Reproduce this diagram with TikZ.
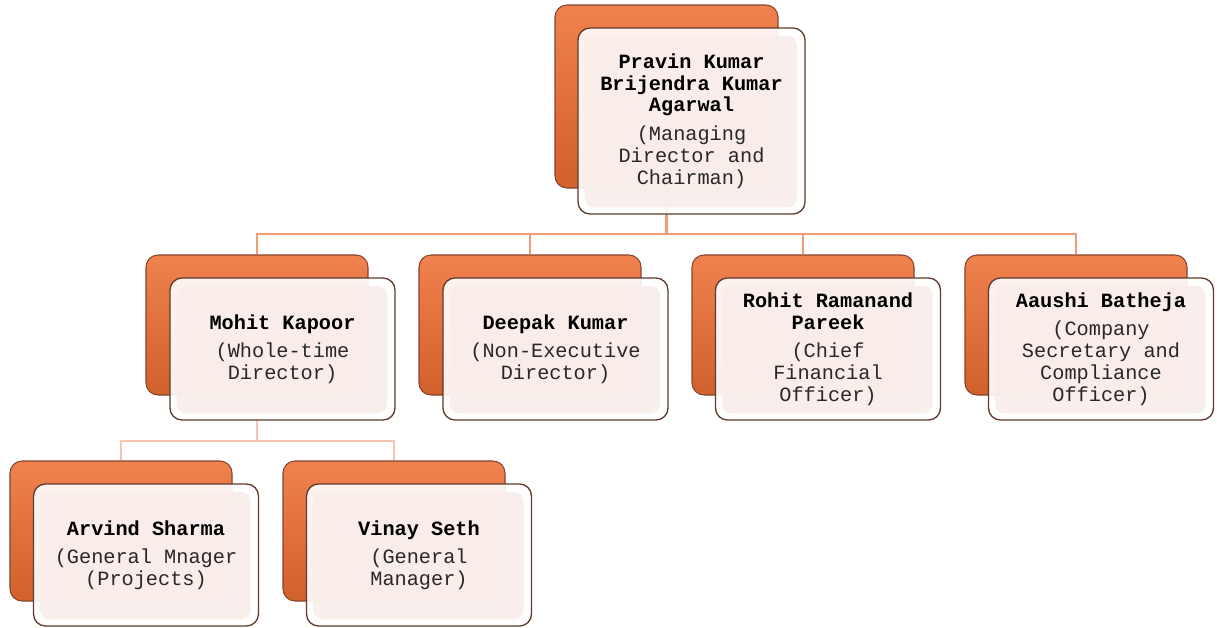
\documentclass[tikz,border=0pt]{standalone}
\usepackage{fontspec}
\setmainfont{Liberation Mono}
\definecolor{linkorange}{RGB}{242,156,116}
\definecolor{linklight}{RGB}{248,198,176}
\definecolor{backtop}{RGB}{240,130,80}
\definecolor{backmid}{RGB}{228,114,60}
\definecolor{backbot}{RGB}{208,96,44}
\definecolor{backline}{RGB}{134,68,44}
\definecolor{frontline}{RGB}{96,58,44}
\definecolor{frontfill}{RGB}{248,237,233}
\definecolor{roletext}{RGB}{40,40,40}

\begin{document}
\begin{tikzpicture}[x=0.75pt,y=0.75pt,yscale=-1,xscale=1,
  backbox/.style={rectangle, rounded corners=9pt, draw=backline, line width=0.8pt,
    top color=backtop, middle color=backmid, bottom color=backbot, inner sep=0pt,
    minimum width=166.5pt, minimum height=105pt},
  frontbox/.style={rectangle, rounded corners=9pt, draw=frontline, line width=1pt,
    fill=white, fill opacity=0.9, text opacity=1, inner sep=0pt, align=center,
    minimum width=168.75pt, minimum height=106.5pt,
    font=\fontsize{15.2}{16.4}\selectfont,
    path picture={\fill[frontfill, rounded corners=7pt]
      ([shift={(5pt,5pt)}]path picture bounding box.south west) rectangle
      ([shift={(-6pt,-6pt)}]path picture bounding box.north east);}},
  link/.style={draw=linkorange, line width=1.6pt},
  sublink/.style={draw=linklight, line width=1.6pt}]
\useasboundingbox (0,0) rectangle (1217,628);

%Shape: back boxes
\node [backbox, minimum width=167.25pt, minimum height=137.25pt] (topb) at (666.5,96.5) {};
\node [backbox] (mohitb) at (257,325) {};
\node [backbox] (deepakb) at (530,325) {};
\node [backbox] (rohitb) at (803,325) {};
\node [backbox] (aaushib) at (1076,325) {};
\node [backbox] (arvindb) at (121,531) {};
\node [backbox] (vinayb) at (394,531) {};

%Connectors
\coordinate (bus1) at (666.5,234);
\coordinate (bus2) at (257,441);
\draw [link] (topb.south) -- (bus1);
\foreach \n in {mohitb,deepakb,rohitb,aaushib}
  \draw [link] (bus1) -| (\n.north);
\draw [sublink] (mohitb.south) -- (bus2);
\foreach \n in {arvindb,vinayb}
  \draw [sublink] (bus2) -| (\n.north);

% Text Node
\node [frontbox, minimum width=170.25pt, minimum height=139.5pt] (top) at (691.5,121)
  {\textbf{Pravin Kumar}\\\textbf{Brijendra Kumar}\\\textbf{Agarwal}\\[5pt]
   \color{roletext}(Managing\\\color{roletext}Director and\\\color{roletext}Chairman)};
% Text Node
\node [frontbox] (mohit) at (282.5,349)
  {\textbf{Mohit Kapoor}\\[5pt]\color{roletext}(Whole-time\\\color{roletext}Director)};
% Text Node
\node [frontbox] (deepak) at (555.5,349)
  {\textbf{Deepak Kumar}\\[5pt]\color{roletext}(Non-Executive\\\color{roletext}Director)};
% Text Node
\node [frontbox] (rohit) at (828,349)
  {\textbf{Rohit Ramanand}\\\textbf{Pareek}\\[5pt]\color{roletext}(Chief\\\color{roletext}Financial\\\color{roletext}Officer)};
% Text Node
\node [frontbox] (aaushi) at (1101,349)
  {\textbf{Aaushi Batheja}\\[5pt]\color{roletext}(Company\\\color{roletext}Secretary and\\\color{roletext}Compliance\\\color{roletext}Officer)};
% Text Node
\node [frontbox] (arvind) at (146,555)
  {\textbf{Arvind Sharma}\\[5pt]\color{roletext}(General Mnager\\\color{roletext}(Projects)};
% Text Node
\node [frontbox] (vinay) at (419,555)
  {\textbf{Vinay Seth}\\[5pt]\color{roletext}(General\\\color{roletext}Manager)};

\end{tikzpicture}
\end{document}
